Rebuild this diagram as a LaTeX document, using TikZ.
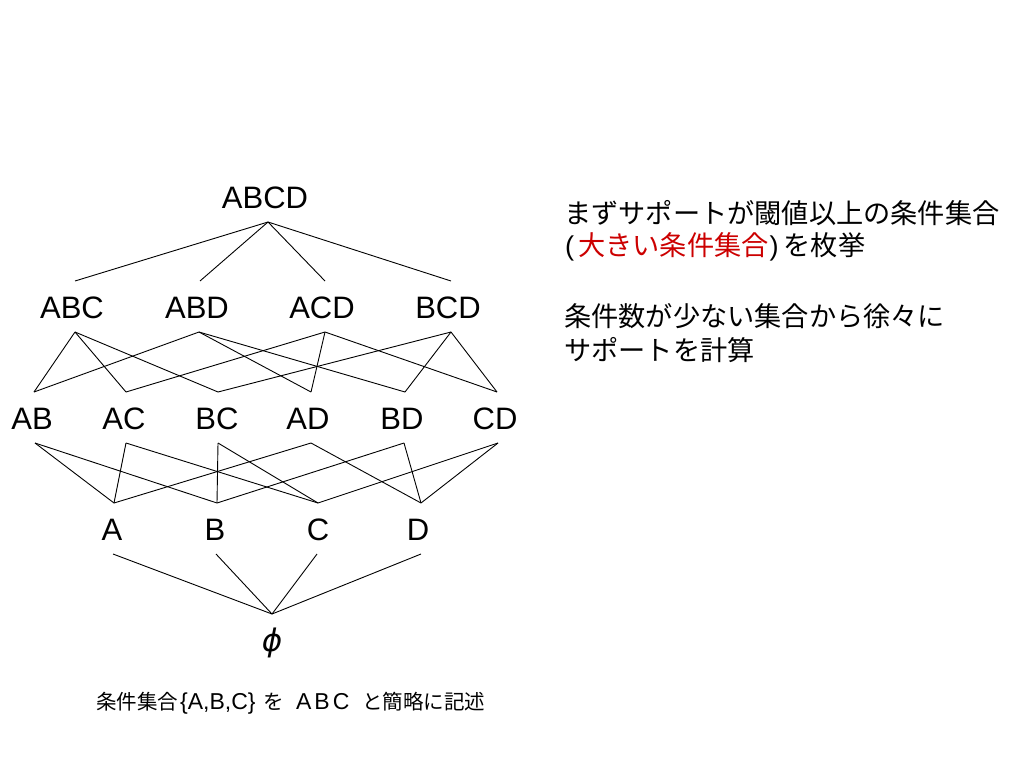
\documentclass[tikz,border=0pt]{standalone}
\usepackage{fontspec}
\setmainfont{Liberation Sans}
\newfontfamily\jp{Noto Sans CJK JP}
\newfontfamily\dvs{DejaVu Sans}
\definecolor{hired}{RGB}{204,0,0}
\newcommand\capjp[1]{{\jp\fontsize{20.5}{20.5}\selectfont #1}}
\begin{document}
\begin{tikzpicture}[x=1pt,y=-1pt,
  lbl/.style={inner sep=0pt,font=\fontsize{31}{31}\selectfont},
  jpt/.style={inner sep=0pt,anchor=west,font=\jp\fontsize{27.2}{27.2}\selectfont},
  edge/.style={line width=0.9pt}]
\useasboundingbox[fill=white] (0,0) rectangle (1024,768);
% labels
\node[lbl] (ABCD) at (265,198) {ABCD};
\node[lbl] (ABC) at (72,308) {ABC};
\node[lbl] (ABD) at (197,308) {ABD};
\node[lbl] (ACD) at (322,308) {ACD};
\node[lbl] (BCD) at (448,308) {BCD};
\node[lbl] (AB) at (32,419) {AB};
\node[lbl] (AC) at (124,419) {AC};
\node[lbl] (BC) at (217,419) {BC};
\node[lbl] (AD) at (308,419) {AD};
\node[lbl] (BD) at (402,419) {BD};
\node[lbl] (CD) at (495,419) {CD};
\node[lbl] (A) at (112,530) {A};
\node[lbl] (B) at (215,530) {B};
\node[lbl] (C) at (318,530) {C};
\node[lbl] (D) at (418,530) {D};
\node[inner sep=0pt,font=\dvs\itshape\fontsize{31}{31}\selectfont] (E) at (272,643) {ϕ};
% connector points
\coordinate (ABCDb) at (268,222);
\coordinate (ABCt) at (75,281);  \coordinate (ABCb) at (75,332);
\coordinate (ABDt) at (200,281); \coordinate (ABDb) at (199,332);
\coordinate (ACDt) at (325,281); \coordinate (ACDb) at (325,332);
\coordinate (BCDt) at (451,281); \coordinate (BCDb) at (451,332);
\coordinate (ABt) at (34,392);  \coordinate (ABb) at (35,443);
\coordinate (ACt) at (126,392); \coordinate (ACb) at (126,443);
\coordinate (BCt) at (218,392); \coordinate (BCb) at (218,443);
\coordinate (ADt) at (311,392); \coordinate (ADb) at (311,443);
\coordinate (BDt) at (405,392); \coordinate (BDb) at (404,443);
\coordinate (CDt) at (497,392); \coordinate (CDb) at (498,443);
\coordinate (At) at (114,503); \coordinate (Ab) at (113,554);
\coordinate (Bt) at (217,503); \coordinate (Bb) at (216,554);
\coordinate (Ct) at (318,503); \coordinate (Cb) at (317,554);
\coordinate (Dt) at (421,503); \coordinate (Db) at (421,554);
\coordinate (Et) at (272,614);
% edges
\foreach \t in {ABC,ABD,ACD,BCD} \draw[edge] (ABCDb) -- (\t t);
\foreach \s/\t in {ABC/AB,ABC/AC,ABC/BC,ABD/AB,ABD/AD,ABD/BD,ACD/AC,ACD/AD,ACD/CD,BCD/BC,BCD/BD,BCD/CD}
  \draw[edge] (\s b) -- (\t t);
\foreach \s/\t in {AB/A,AB/B,AC/A,AC/C,BC/B,BC/C,AD/A,AD/D,BD/B,BD/D,CD/C,CD/D}
  \draw[edge] (\s b) -- (\t t);
\foreach \s in {A,B,C,D} \draw[edge] (\s b) -- (Et);
% texts
\node[jpt] (t1) at (564,213) {まずサポートが閾値以上の条件集合};
\node[jpt] (t2) at (561,247) {{\rmfamily\hspace{4pt}(}\hspace{4pt}\textcolor{hired}{大きい条件集合}\hspace{1pt}{\rmfamily)}\hspace{5pt}を枚挙};
\node[jpt] (t3) at (564,316) {条件数が少ない集合から徐々に};
\node[jpt] (t4) at (564,350) {サポートを計算};
\node[inner sep=0pt,anchor=west,font=\fontsize{23}{23}\selectfont] (cap) at (96,703)
  {\capjp{条件集合}\hspace{2pt}\{A,B,C\}\hspace{8pt}\capjp{を}\hspace{12pt}A\hspace{3pt}B\hspace{3pt}C\hspace{13pt}\capjp{と簡略に記述}};
\end{tikzpicture}
\end{document}
